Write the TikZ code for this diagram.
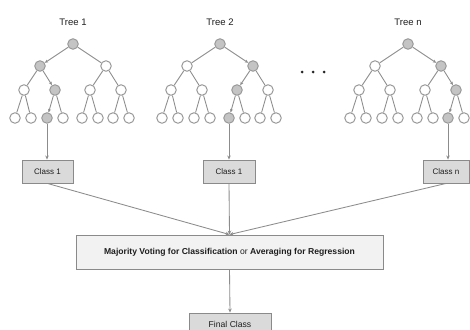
\documentclass[tikz,border=0pt]{standalone}
\usepackage{fontspec}
\setmainfont{Liberation Sans}
\usetikzlibrary{arrows.meta}
\definecolor{edgec}{HTML}{8C8C8C}
\definecolor{nodec}{HTML}{9A9A9A}
\definecolor{hlfill}{HTML}{C4C4C4}
\definecolor{boxfill}{HTML}{DADADA}
\definecolor{boxdraw}{HTML}{8A8A8A}
\definecolor{majfill}{HTML}{F2F2F2}
\definecolor{txt}{HTML}{1E1E1E}
\begin{document}
\begin{tikzpicture}[x=1pt,y=-1pt,
  tnode/.style={circle,draw=nodec,line width=1pt,fill=white,minimum size=10.5pt,inner sep=0pt},
  hl/.style={fill=hlfill},
  tedge/.style={draw=edgec,line width=0.85pt},
  hledge/.style={-{Stealth[length=3.5pt,width=3pt]}},
  ttitle/.style={text=txt,font=\fontsize{9.5}{10}\selectfont},
  cbox/.style={draw=boxdraw,fill=boxfill,line width=0.9pt,inner sep=0pt,text=txt,font=\fontsize{8}{9}\selectfont},
  conn/.style={draw=edgec,line width=0.85pt,-{Stealth[length=4pt,width=3.5pt]}},
  hl1-0-1/.style={hl}, hl1-1-1/.style={hl}, hl1-2-2/.style={hl}, hl1-3-3/.style={hl},
  hl2-0-1/.style={hl}, hl2-1-2/.style={hl}, hl2-2-3/.style={hl}, hl2-3-5/.style={hl},
  hl3-0-1/.style={hl}, hl3-1-2/.style={hl}, hl3-2-4/.style={hl}, hl3-3-7/.style={hl},
  e1-1-1/.style={hledge}, e1-2-2/.style={hledge}, e1-3-3/.style={hledge},
  e2-1-2/.style={hledge}, e2-2-3/.style={hledge}, e2-3-5/.style={hledge},
  e3-1-2/.style={hledge}, e3-2-4/.style={hledge}, e3-3-7/.style={hledge},
]
\useasboundingbox (0,0) rectangle (470,329);
\fill[white] (0,0) rectangle (470,329);

\foreach \t/\rx/\name in {1/73/Tree 1, 2/220/Tree 2, 3/408/Tree n}{
  \node[ttitle] (title\t) at (\rx,22) {\name};
  \node[tnode,hl\t-0-1/.try] (t\t-0-1) at (\rx,44) {};
  \foreach \i/\dx in {1/-33,2/33}{
    \node[tnode,hl\t-1-\i/.try] (t\t-1-\i) at (\rx+\dx,66) {};
    \draw[tedge,e\t-1-\i/.try] (t\t-0-1) -- (t\t-1-\i);
  }
  \foreach \i/\dx in {1/-49,2/-18,3/17,4/48}{
    \pgfmathtruncatemacro\p{(\i+1)/2}
    \node[tnode,hl\t-2-\i/.try] (t\t-2-\i) at (\rx+\dx,90) {};
    \draw[tedge,e\t-2-\i/.try] (t\t-1-\p) -- (t\t-2-\i);
  }
  \foreach \i/\dx in {1/-58,2/-42,3/-26,4/-10,5/9,6/25,7/40,8/56}{
    \pgfmathtruncatemacro\p{(\i+1)/2}
    \node[tnode,hl\t-3-\i/.try] (t\t-3-\i) at (\rx+\dx,118) {};
    \draw[tedge,e\t-3-\i/.try] (t\t-2-\p) -- (t\t-3-\i);
  }
}

\foreach \k/\x in {1/302,2/313,3/324}{
  \fill[black!85] (\x,72) circle (1.5pt) coordinate (dot\k);
}

\node[cbox,minimum width=51pt,minimum height=23pt] (c1) at (47.5,171.5) {Class 1};
\node[cbox,minimum width=52pt,minimum height=23pt] (c2) at (229,171.5) {Class 1};
\node[cbox,minimum width=46pt,minimum height=23pt] (c3) at (446,171.5) {Class n};

\draw[conn] (t1-3-3) -- (c1.north -| t1-3-3);
\draw[conn] (t2-3-5) -- (c2.north -| t2-3-5);
\draw[conn] (t3-3-7) -- (c3.north -| t3-3-7);

\node[cbox,fill=majfill,minimum width=307pt,minimum height=34pt,font=\fontsize{8.6}{10}\selectfont] (maj) at (229.5,252)
  {\textbf{Majority Voting for Classification} or \textbf{Averaging for Regression}};

\draw[conn] (c1.south) -- (maj.north);
\draw[conn] (c2.south) -- (maj.north);
\draw[conn] (c3.south) -- (maj.north);

\node[cbox,minimum width=82pt,minimum height=22pt,font=\fontsize{8.6}{10}\selectfont] (fin) at (230,324) {Final Class};
\draw[conn] (maj.south) -- (fin.north);
\end{tikzpicture}
\end{document}
